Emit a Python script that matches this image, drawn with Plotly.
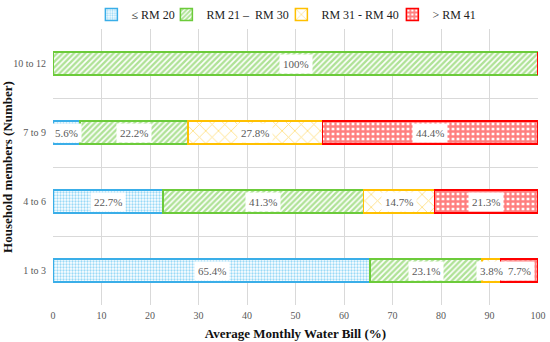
import plotly.graph_objects as go

categories = ["1 to 3", "4 to 6", "7 to 9", "10 to 12"]
series_names = ["≤ RM 20", "RM 21 –  RM 30", "RM 31 - RM 40", "> RM 41"]
le_rm20 = [65.4, 22.7, 5.6, 0]
rm21_30 = [23.1, 41.3, 22.2, 100]
rm31_40 = [3.8, 14.7, 27.8, 0]
gt_rm41 = [7.7, 21.3, 44.4, 0]
x_ticks = [0, 10, 20, 30, 40, 50, 60, 70, 80, 90, 100]

SERIF = "Liberation Serif"

series = [le_rm20, rm21_30, rm31_40, gt_rm41]
colors = ["#3AAEE8", "#6CCB3A", "#FFC000", "#FF0000"]
patterns = [
    dict(shape=".", fgcolor="#36B3EE", bgcolor="white", size=3, solidity=0.45),
    dict(shape="/", fgcolor="#5FC52E", bgcolor="white", size=4, solidity=0.6),
    dict(shape="x", fgcolor="#FFC000", bgcolor="white", size=9, solidity=0.18),
    dict(shape="+", fgcolor="#FF0000", bgcolor="white", size=5, solidity=0.7),
]
legend_widths = [30, 70, 66, 40]

fig = go.Figure()
for name, vals, col, pat, lw in zip(series_names, series, colors, patterns, legend_widths):
    fig.add_trace(go.Bar(
        y=categories, x=vals, name=name, orientation="h",
        marker=dict(color="white", line=dict(color=col, width=1.5), pattern=pat),
        width=0.33, legendwidth=lw,
    ))

# segment labels
for ci, cat in enumerate(categories):
    start = 0
    for vals in series:
        v = vals[ci]
        if v > 0:
            txt = "100%" if v == 100 else f"{v}%"
            fig.add_annotation(x=start + v / 2, y=cat, text=txt, showarrow=False,
                               font=dict(family=SERIF, size=11, color="#595959"),
                               bgcolor="white", borderpad=3)
        start += v

fig.update_layout(
    barmode="stack",
    width=550, height=342,
    margin=dict(l=53, r=12, t=25, b=37),
    plot_bgcolor="white", paper_bgcolor="white",
    font=dict(family=SERIF, size=11, color="#404040"),
    legend=dict(orientation="h", x=0.875, xanchor="right", yref="container",
                y=1.0, yanchor="top",
                font=dict(family=SERIF, size=12, color="#222"),
                traceorder="normal", itemwidth=30, tracegroupgap=0),
)
fig.update_xaxes(range=[0, 100], tickvals=x_ticks, showgrid=True, gridcolor="#D9D9D9",
                 gridwidth=1, zeroline=False, showline=False, automargin=False,
                 tickfont=dict(family=SERIF, size=10, color="#595959"),
                 ticklabelstandoff=3,
                 title=dict(text="<b>Average Monthly Water Bill (%)</b>",
                            font=dict(family=SERIF, size=13, color="#111"),
                            standoff=8))
fig.update_yaxes(type="category", categoryorder="array", categoryarray=categories,
                 tickson="boundaries", showgrid=True, gridcolor="#D9D9D9", ticks="",
                 automargin=False, ticklabelstandoff=6,
                 tickfont=dict(family=SERIF, size=10, color="#595959"),
                 title=dict(text="<b>Household members (Number)</b>",
                            font=dict(family=SERIF, size=13, color="#111"),
                            standoff=4))

fig.write_html("out.html", config={"displayModeBar": False},
               post_script="document.body.style.margin='0';document.body.style.overflow='hidden';")
